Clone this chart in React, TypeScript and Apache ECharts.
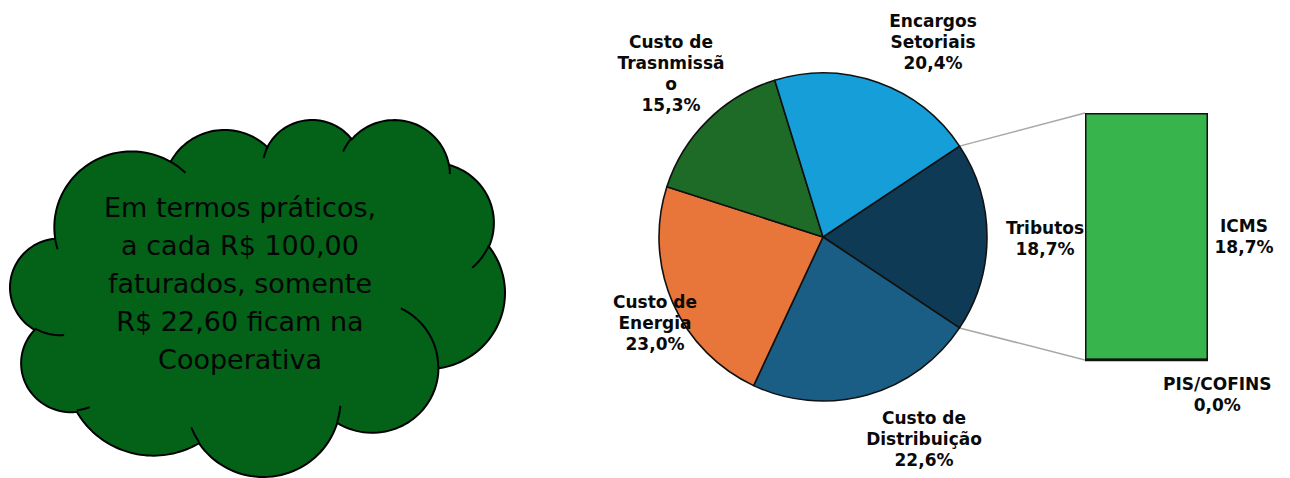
import React, { useEffect, useRef } from "react";
import * as echarts from "echarts";

// ---- data ----
const sliceNames = ["Tributos", "Custo de Distribuição", "Custo de Energia", "Custo de Trasnmissão", "Encargos Setoriais"];
const sliceLabels = ["Tributos", "Custo de\nDistribuição", "Custo de\nEnergia", "Custo de\nTrasnmissã\no", "Encargos\nSetoriais"];
const sliceValues = [18.7, 22.6, 23.0, 15.3, 20.4];
const sliceColors = ["#0e3a55", "#1a5d85", "#e8763a", "#1e6b27", "#169ed8"];
const barCategory = ["Tributos"];
const barNames = ["PIS/COFINS", "ICMS"];
const barValues = [0.0, 18.7];
const cloudLines = ["Em termos práticos,", "a cada R$ 100,00", "faturados, somente", "R$ 22,60 ficam na", "Cooperativa"];

// ---- layout ----
const PIE_CX = 823;
const PIE_CY = 237;
const PIE_R = 164;
const LABEL_OFFSETS = [
  [222, 1],
  [101, 202],
  [-168, 86],
  [-152, -164],
  [110, -195],
];
const GRID = { left: 1085, top: 113, width: 123, height: 247 };
const CLOUD_BOX = { x0: 10, x1: 505, y0: 120, y1: 477 };

const fmt = (v: number) => v.toFixed(1).replace(".", ",") + "%";

// PowerPoint-like cloud geometry (arcTo segments in 43200 units)
const CLOUD_START = [3900, 14370];
const CLOUD_ARCS = [
  [6753, 9190, -11429249, 7426832],
  [5333, 7267, -8646143, 5396714],
  [4365, 5945, -8748475, 5983381],
  [4857, 6595, -7859164, 7034504],
  [5333, 7273, -4722533, 6541615],
  [6775, 9220, -2776035, 7816140],
  [5785, 7867, 37501, 6842000],
  [6752, 9215, 1347096, 6910353],
  [7720, 10543, 3974558, 4542661],
  [4360, 5918, -16496525, 8804134],
  [4345, 5945, -14809710, 9151131],
];
const CLOUD_INNER = [
  [4693, 26177, 4345, 5945, 5204520, 1585770],
  [6928, 34899, 4360, 5918, 4416628, 686848],
  [16478, 39090, 6752, 9215, 8257449, 844866],
  [28827, 34751, 6752, 9215, 387196, 959901],
  [34129, 22954, 5785, 7867, -4217541, 4255042],
  [41798, 15354, 5333, 7273, 1819082, 1665090],
  [38324, 5426, 4857, 6595, -824660, 891534],
  [29078, 3952, 4857, 6595, -8950887, 1091722],
  [22141, 4720, 4365, 5945, -9809656, 1061181],
  [14000, 5192, 6753, 9190, -4002417, 739161],
  [4127, 15789, 6753, 9190, 9459261, 711490],
];

function arcTo(x: number, y: number, wR: number, hR: number, st: number, sw: number) {
  const th1 = ((st / 60000) * Math.PI) / 180;
  const swr = ((sw / 60000) * Math.PI) / 180;
  const t1 = Math.atan2(wR * Math.sin(th1), hR * Math.cos(th1));
  const cx = x - wR * Math.cos(t1);
  const cy = y - hR * Math.sin(t1);
  const pts: number[][] = [];
  const N = 48;
  for (let i = 1; i <= N; i++) {
    const th = th1 + (swr * i) / N;
    const t = Math.atan2(wR * Math.sin(th), hR * Math.cos(th));
    pts.push([cx + wR * Math.cos(t), cy + hR * Math.sin(t)]);
  }
  return pts;
}

function buildCloud() {
  let x = CLOUD_START[0];
  let y = CLOUD_START[1];
  const outline: number[][] = [[x, y]];
  for (const a of CLOUD_ARCS) {
    const p = arcTo(x, y, a[0], a[1], a[2], a[3]);
    outline.push(...p);
    x = p[p.length - 1][0];
    y = p[p.length - 1][1];
  }
  const inner: number[][][] = CLOUD_INNER.map((a) => [[a[0], a[1]], ...arcTo(a[0], a[1], a[2], a[3], a[4], a[5])]);
  let minX = Infinity, maxX = -Infinity, minY = Infinity, maxY = -Infinity;
  for (const [px, py] of outline) {
    minX = Math.min(minX, px); maxX = Math.max(maxX, px);
    minY = Math.min(minY, py); maxY = Math.max(maxY, py);
  }
  const sx = (CLOUD_BOX.x1 - CLOUD_BOX.x0) / (maxX - minX);
  const sy = (CLOUD_BOX.y1 - CLOUD_BOX.y0) / (maxY - minY);
  const tf = (p: number[]) => `${(CLOUD_BOX.x0 + (p[0] - minX) * sx).toFixed(2)} ${(CLOUD_BOX.y0 + (p[1] - minY) * sy).toFixed(2)}`;
  const dOut = "M " + outline.map(tf).join(" L ") + " Z";
  const dIn = inner.map((seg) => "M " + seg.map(tf).join(" L ")).join(" ");
  return { dOut, dIn };
}

export default function App() {
  const ref = useRef<HTMLDivElement>(null);
  useEffect(() => {
    if (!ref.current) return;
    const { dOut, dIn } = buildCloud();
    echarts.graphic.registerShape("cloudOutline", echarts.graphic.extendPath(dOut, {}));
    echarts.graphic.registerShape("cloudInner", echarts.graphic.extendPath(dIn, {}));
    const chart = echarts.init(ref.current, null, { renderer: "svg" });
    const startAngle = ((sliceValues[0] / 100) * 360) / 2;
    const labelFont = {
      fontFamily: "DejaVu Sans",
      fontWeight: "bold" as const,
      fontSize: 17,
      lineHeight: 21,
      color: "#0a0a0a",
    };
    chart.setOption({
      animation: false,
      backgroundColor: "#fff",
      grid: { ...GRID, containLabel: false },
      xAxis: { type: "category", data: barCategory, show: false },
      yAxis: { type: "value", min: 0, max: barValues[0] + barValues[1], show: false },
      series: [
        {
          type: "pie",
          center: [PIE_CX, PIE_CY],
          radius: PIE_R,
          startAngle,
          clockwise: true,
          avoidLabelOverlap: false,
          data: sliceNames.map((n, i) => ({
            name: n,
            value: sliceValues[i],
            itemStyle: { color: sliceColors[i] },
          })),
          itemStyle: { borderColor: "#111", borderWidth: 1.6 },
          label: {
            show: true,
            position: "outside",
            formatter: (p: any) => sliceLabels[p.dataIndex] + "\n" + fmt(p.value),
            ...labelFont,
          },
          labelLine: { show: false },
          labelLayout: (p: any) => ({
            x: PIE_CX + LABEL_OFFSETS[p.dataIndex][0],
            y: PIE_CY + LABEL_OFFSETS[p.dataIndex][1],
            align: "center",
            verticalAlign: "middle",
          }),
          emphasis: { disabled: true },
          z: 3,
        },
        ...barNames.map((n, i) => ({
          type: "bar",
          name: n,
          stack: "trib",
          data: [barValues[i]],
          barWidth: "100%",
          itemStyle: { color: "#37b44b", borderColor: "#111", borderWidth: i === 0 ? 2.5 : 1.5 },
          label: {
            show: true,
            formatter: (p: any) => n + "\n" + fmt(p.value),
            ...labelFont,
          },
          labelLayout: (p: any) =>
            i === 0
              ? { x: p.rect.x + p.rect.width + 8, y: p.rect.y + p.rect.height + 33, align: "center", verticalAlign: "middle" }
              : { x: p.rect.x + p.rect.width + 36, y: p.rect.y + p.rect.height / 2, align: "center", verticalAlign: "middle" },
          emphasis: { disabled: true },
          z: i === 0 ? 4 : 3,
        })),
      ],
    });

    // connector lines from Tributos slice edges to bar corners
    const a1 = (startAngle * Math.PI) / 180;
    const a2 = ((startAngle - (sliceValues[0] / 100) * 360) * Math.PI) / 180;
    const p1 = [PIE_CX + PIE_R * Math.cos(a1), PIE_CY - PIE_R * Math.sin(a1)];
    const p2 = [PIE_CX + PIE_R * Math.cos(a2), PIE_CY - PIE_R * Math.sin(a2)];
    const yTop = chart.convertToPixel({ yAxisIndex: 0 }, barValues[0] + barValues[1]) as number;
    const yBot = chart.convertToPixel({ yAxisIndex: 0 }, 0) as number;
    const xL = GRID.left;

    chart.setOption({
      graphic: [
        {
          id: "cloud",
          type: "cloudOutline",
          z: 1,
          style: { fill: "#036118", stroke: "#000", lineWidth: 2 },
        },
        {
          id: "cloudInner",
          type: "cloudInner",
          z: 2,
          style: { fill: "none", stroke: "#000", lineWidth: 2 },
        },
        {
          id: "cloudText",
          type: "text",
          x: 240,
          y: 283,
          z: 3,
          style: {
            text: cloudLines.join("\n"),
            fill: "#050505",
            fontFamily: "DejaVu Sans",
            fontSize: 27,
            lineHeight: 38,
            align: "center",
            verticalAlign: "middle",
          },
        },
        {
          id: "l1",
          type: "line",
          z: 0,
          shape: { x1: p1[0], y1: p1[1], x2: xL, y2: yTop },
          style: { stroke: "#a8a8a8", lineWidth: 1.5 },
        },
        {
          id: "l2",
          type: "line",
          z: 0,
          shape: { x1: p2[0], y1: p2[1], x2: xL, y2: yBot },
          style: { stroke: "#a8a8a8", lineWidth: 1.5 },
        },
      ],
    });
    return () => chart.dispose();
  }, []);
  return <div ref={ref} style={{ position: "absolute", left: 0, top: 0, width: 1290, height: 478 }} />;
}
